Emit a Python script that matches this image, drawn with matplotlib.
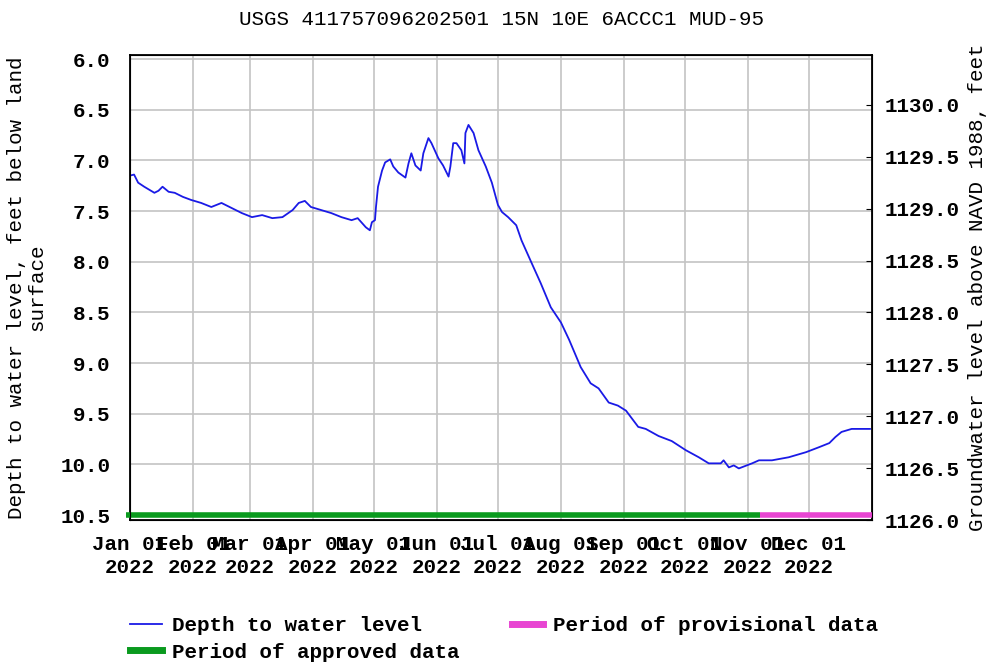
import pandas as pd
import matplotlib
matplotlib.use('Agg')
import matplotlib.pyplot as plt
import matplotlib.dates as mdates
from matplotlib.lines import Line2D

# depth to water level (day of year 2022, feet below land surface)
day_of_year = [0, 2, 4, 7, 12, 14, 16, 19, 22, 26, 30, 35, 40, 45, 50, 55, 60, 65, 70, 75,
               80, 83, 86, 89, 94, 99, 104, 109, 112, 116, 118, 119, 120.5, 121, 122, 124,
               125.5, 128, 129.5, 132, 135.5, 137, 138.4, 140.4, 143, 144.3, 146.8, 148.3,
               151.7, 154, 156.7, 157.6, 159, 160.6, 163, 164.5, 165, 166.5, 169, 171.4,
               175, 178, 181, 183, 186, 190, 192.6, 197.5, 202, 207, 212, 216, 221.7, 226.6,
               230.5, 235.5, 240, 244, 250, 253.7, 260, 266.5, 273.4, 279.8, 284.7, 290.6,
               292, 294.6, 297, 299.5, 306, 309.4, 315.8, 324, 332.5, 339, 344, 347, 350,
               355, 364]
depth_ft = [7.15, 7.14, 7.22, 7.26, 7.32, 7.30, 7.26, 7.31, 7.32, 7.36, 7.39, 7.42, 7.46,
            7.42, 7.47, 7.52, 7.56, 7.54, 7.57, 7.56, 7.49, 7.42, 7.40, 7.46, 7.49, 7.52,
            7.56, 7.59, 7.57, 7.66, 7.69, 7.61, 7.59, 7.46, 7.26, 7.10, 7.02, 6.99, 7.06,
            7.12, 7.17, 7.03, 6.93, 7.05, 7.10, 6.93, 6.78, 6.83, 6.98, 7.05, 7.16, 7.06,
            6.83, 6.83, 6.90, 7.03, 6.73, 6.65, 6.73, 6.90, 7.06, 7.22, 7.44, 7.51, 7.56,
            7.64, 7.79, 8.01, 8.21, 8.45, 8.60, 8.77, 9.04, 9.20, 9.25, 9.39, 9.42, 9.47,
            9.63, 9.65, 9.72, 9.77, 9.86, 9.93, 9.99, 9.99, 9.96, 10.03, 10.01, 10.04,
            9.99, 9.96, 9.96, 9.93, 9.88, 9.83, 9.79, 9.73, 9.68, 9.65, 9.65]

approved_period = ['2021-12-30', '2022-11-07']
provisional_period = ['2022-11-07', '2023-01-01']

month_ticks = pd.date_range('2022-01-01', '2022-12-01', freq='MS')
left_ticks = [6.0, 6.5, 7.0, 7.5, 8.0, 8.5, 9.0, 9.5, 10.0, 10.5]
right_ticks = [1126.0, 1126.5, 1127.0, 1127.5, 1128.0, 1128.5, 1129.0, 1129.5, 1130.0]

FONT = 'Liberation Mono'
FS = 15
plt.rcParams['font.family'] = FONT
plt.rcParams['font.weight'] = 'bold'

dates = pd.Timestamp('2022-01-01') + pd.to_timedelta(day_of_year, unit='D')

fig = plt.figure(figsize=(9.9, 6.65), dpi=100)
ax = fig.add_axes([130 / 990, 145 / 665, 742 / 990, 465 / 665])

ax.plot(dates, depth_ft, color='#1a1ae6', lw=1.3, zorder=3)
ax.plot(pd.to_datetime(approved_period), [10.5, 10.5], color='#0a9a1e', lw=4, solid_capstyle='butt',
        zorder=4, clip_on=False)
ax.plot(pd.to_datetime(provisional_period), [10.5, 10.5], color='#e845d2', lw=4, solid_capstyle='butt',
        zorder=4, clip_on=False)

ax.set_xlim(pd.Timestamp('2022-01-01'), pd.Timestamp('2023-01-01'))
ax.set_ylim(10.549, 5.96)
ax.set_yticks(left_ticks)
ax.set_yticklabels(['%.1f' % v for v in left_ticks])
ax.set_xticks(month_ticks)
ax.xaxis.set_major_formatter(mdates.DateFormatter('%b %d\n%Y'))
ax.tick_params(axis='x', length=0, pad=11, labelsize=FS)
ax.tick_params(axis='y', length=0, pad=14, labelsize=FS)
for lab in ax.get_xticklabels():
    lab.set_linespacing(1.25)
ax.grid(True, color='#c4c4c4', lw=1.2)
for sp in ax.spines.values():
    sp.set_linewidth(1.3)

ax2 = ax.twinx()
ax2.set_ylim(1126.0, 1130.48)
ax2.set_yticks(right_ticks)
ax2.set_yticklabels(['%.1f' % v for v in right_ticks])
ax2.tick_params(axis='y', direction='in', length=4, pad=9, labelsize=FS)

ax.set_ylabel('Depth to water level, feet below land\nsurface', fontsize=FS, labelpad=10,
              linespacing=1.1)
ax2.set_ylabel('Groundwater level above NAVD 1988, feet', fontsize=FS, labelpad=6)

fig.suptitle('USGS 411757096202501 15N 10E 6ACCC1 MUD-95', x=501 / 990, y=1 - 10 / 665,
             va='top', fontsize=FS)

handles = [Line2D([], [], color='#1a1ae6', lw=1.3),
           Line2D([], [], color='#0a9a1e', lw=5),
           Line2D([], [], color='#e845d2', lw=5)]
labels = ['Depth to water level', 'Period of approved data', 'Period of provisional data']
fig.legend(handles, labels, ncol=2, loc='upper left', bbox_to_anchor=(122 / 990, 1 - 608 / 665),
           frameon=False, fontsize=FS, handlelength=1.5, handletextpad=0.5,
           columnspacing=2.5, labelspacing=0.35, borderaxespad=0)

fig.savefig('out.png', dpi=100)
